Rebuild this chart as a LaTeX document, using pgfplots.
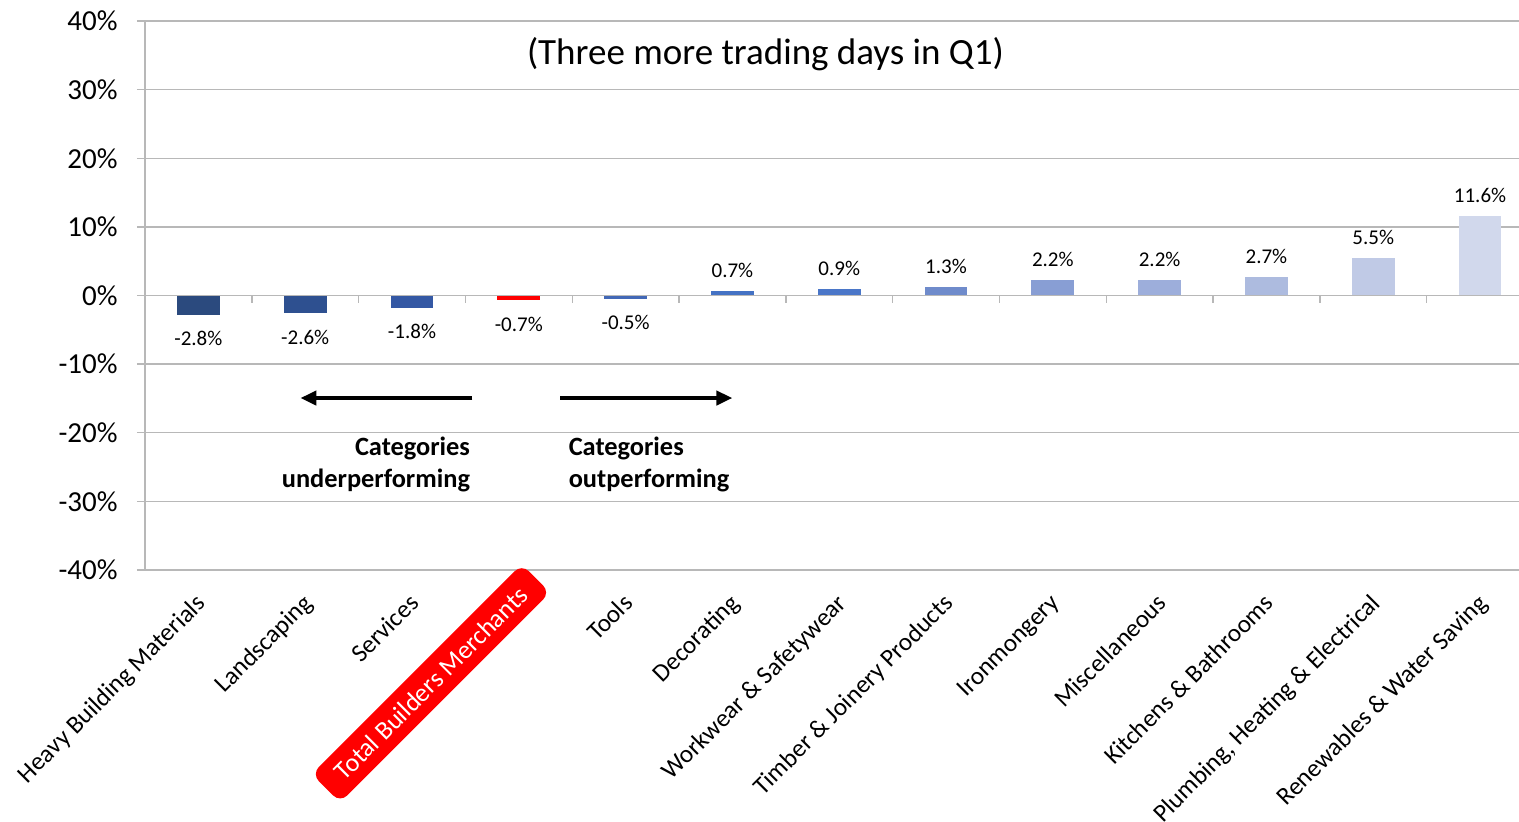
\documentclass[border=0pt]{standalone}
\usepackage{pgfplots}
\pgfplotsset{compat=1.18}
\usepackage{fontspec}
\setmainfont{Carlito}
\usetikzlibrary{arrows.meta}
\definecolor{c1}{HTML}{2B4A7E}
\definecolor{c2}{HTML}{2E5090}
\definecolor{c3}{HTML}{3458A4}
\definecolor{c4}{HTML}{FF0000}
\definecolor{c5}{HTML}{4268B6}
\definecolor{c6}{HTML}{4472C4}
\definecolor{c7}{HTML}{4A76C8}
\definecolor{c8}{HTML}{6F8BCB}
\definecolor{c9}{HTML}{889ED4}
\definecolor{c10}{HTML}{9DAEDB}
\definecolor{c11}{HTML}{ADBBDF}
\definecolor{c12}{HTML}{C0CAE6}
\definecolor{c13}{HTML}{D1D8EC}
\pgfkeys{/pgf/number format/assume math mode=true}
\pgfplotsset{
  posl/.style={every node near coord/.append style={yshift=5.5pt}},
  negl/.style={every node near coord/.append style={yshift=-7pt}},
}
\begin{document}
\begin{tikzpicture}
\begin{axis}[
  at={(0,0)}, anchor=south west,
  scale only axis, width=687pt, height=274.5pt,
  xmin=-0.5, xmax=12.365, ymin=-40, ymax=40,
  axis x line*=bottom, axis y line*=left,
  axis line style={draw=black!28, line width=0.7pt},
  ytick={-40,-30,...,40},
  yticklabel={\pgfmathprintnumber{\tick}\%},
  yticklabel style={font=\fontsize{14.5}{17}\selectfont, inner sep=0pt, xshift=-9.5pt},
  ymajorgrids, grid style={black!28, line width=0.7pt},
  tick align=outside,
  ytick style={draw=black!28, line width=0.7pt},
  major tick length=4pt,
  xtick={0,...,12}, xtick style={draw=none},
  xticklabels={Heavy Building Materials, Landscaping, Services, {}, Tools, Decorating, Workwear \& Safetywear, Timber \& Joinery Products, Ironmongery, Miscellaneous, Kitchens \& Bathrooms, {Plumbing, Heating \& Electrical}, Renewables \& Water Saving},
  xticklabel style={font=\fontsize{12.6}{15}\selectfont, inner sep=0pt, xshift=-2pt, yshift=-7pt, rotate=45, anchor=north east},
  nodes near coords={\pgfmathprintnumber[fixed, fixed zerofill, precision=1]{\pgfplotspointmeta}\%},
  nodes near coords align={vertical},
  every node near coord/.append style={font=\fontsize{10.5}{12.6}\selectfont, inner sep=1pt, fill=white, text=black},
  clip=false,
]
\addplot[ybar, bar width=0.4, bar shift=0pt, fill=c1, draw=none, negl] coordinates {(0,-2.8)};
\addplot[ybar, bar width=0.4, bar shift=0pt, fill=c2, draw=none, negl] coordinates {(1,-2.6)};
\addplot[ybar, bar width=0.4, bar shift=0pt, fill=c3, draw=none, negl] coordinates {(2,-1.8)};
\addplot[ybar, bar width=0.4, bar shift=0pt, fill=c4, draw=none, negl] coordinates {(3,-0.7)};
\addplot[ybar, bar width=0.4, bar shift=0pt, fill=c5, draw=none, negl] coordinates {(4,-0.5)};
\addplot[ybar, bar width=0.4, bar shift=0pt, fill=c6, draw=none, posl] coordinates {(5,0.7)};
\addplot[ybar, bar width=0.4, bar shift=0pt, fill=c7, draw=none, posl] coordinates {(6,0.9)};
\addplot[ybar, bar width=0.4, bar shift=0pt, fill=c8, draw=none, posl] coordinates {(7,1.3)};
\addplot[ybar, bar width=0.4, bar shift=0pt, fill=c9, draw=none, posl] coordinates {(8,2.2)};
\addplot[ybar, bar width=0.4, bar shift=0pt, fill=c10, draw=none, posl] coordinates {(9,2.2)};
\addplot[ybar, bar width=0.4, bar shift=0pt, fill=c11, draw=none, posl] coordinates {(10,2.7)};
\addplot[ybar, bar width=0.4, bar shift=0pt, fill=c12, draw=none, posl] coordinates {(11,5.5)};
\addplot[ybar, bar width=0.4, bar shift=0pt, fill=c13, draw=none, posl] coordinates {(12,11.6)};
\draw[black!28, line width=0.7pt] (axis cs:-0.5,0) -- (axis cs:12.365,0);
\pgfplotsinvokeforeach{0,...,11}{\draw[black!28, line width=0.7pt] (axis cs:#1.5,0) -- ++(0pt,-3.5pt);}
\node[font=\fontsize{18.5}{22}\selectfont, inner sep=0pt] at (axis cs:5.309,35.2) {(Three more trading days in Q1)};
\draw[line width=2pt, -{Triangle[length=8pt,width=7pt]}] (axis cs:2.566,-14.94) -- (axis cs:0.955,-14.94);
\draw[line width=2pt, -{Triangle[length=8pt,width=7pt]}] (axis cs:3.39,-14.94) -- (axis cs:5.0,-14.94);
\node[anchor=east, align=right, font=\bfseries\fontsize{13.2}{16}\selectfont, inner sep=0pt] at (axis cs:2.547,-24.55) {Categories\\underperforming};
\node[anchor=west, align=left, font=\bfseries\fontsize{13.2}{16}\selectfont, inner sep=0pt] at (axis cs:3.464,-24.55) {Categories\\outperforming};
\node[fill=red, text=white, rounded corners=5pt, inner xsep=9pt, inner ysep=5.5pt, font=\fontsize{13}{15.6}\selectfont, xshift=-1pt+2.47pt, yshift=-7pt+10.25pt, rotate=45, anchor=north east] at (axis cs:3,-40) {Total Builders Merchants};
\end{axis}
\pgfresetboundingbox
\useasboundingbox (-72.5pt,-125.5pt) rectangle (687pt,285pt);
\end{tikzpicture}
\end{document}
